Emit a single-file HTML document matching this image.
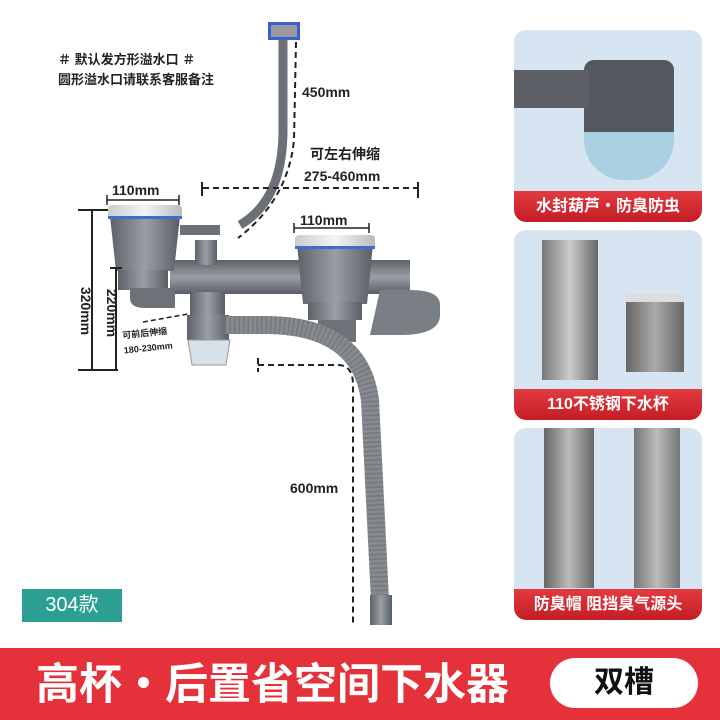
<!DOCTYPE html>
<html><head><meta charset="utf-8"><style>
body{margin:0;width:720px;height:720px;background:#fff;position:relative;overflow:hidden;font-family:"Liberation Sans","Noto Sans CJK SC",sans-serif}
.panel{position:absolute;left:514px;width:188px;background:#d7e4f1;border-radius:12px;overflow:hidden}
.lab{position:absolute;left:0;right:0;bottom:0;height:31px;background:linear-gradient(#e23a3f,#c41d25);color:#fff;font-size:16px;font-weight:bold;text-align:center;line-height:31px;border-radius:0 0 12px 12px}
.t{position:absolute;color:#222;font-weight:bold;white-space:nowrap}
</style></head><body>
<svg width="720" height="720" style="position:absolute;left:0;top:0">
<defs>
<linearGradient id="g" x1="0" x2="1"><stop offset="0" stop-color="#5d6168"/><stop offset=".5" stop-color="#9a9ea5"/><stop offset="1" stop-color="#5a5e65"/></linearGradient>
<linearGradient id="gv" x1="0" y1="0" x2="0" y2="1"><stop offset="0" stop-color="#5d6168"/><stop offset=".5" stop-color="#9a9ea5"/><stop offset="1" stop-color="#5a5e65"/></linearGradient>
<linearGradient id="s" x1="0" x2="1"><stop offset="0" stop-color="#ccc"/><stop offset=".5" stop-color="#f4f4f4"/><stop offset="1" stop-color="#bbb"/></linearGradient>
</defs>
<rect x="268" y="22" width="32" height="18" fill="#3a5fd0"/><rect x="271" y="25" width="26" height="12" fill="#999"/>
<path d="M283 40 L283 130 Q283 200 240 225" stroke="#6b6f76" stroke-width="9" fill="none"/>
<path d="M296 42 L294 140 Q288 200 238 238" stroke="#222" stroke-width="2" stroke-dasharray="6,4" fill="none"/>
<path d="M203 188 L417 188" stroke="#222" stroke-width="2" stroke-dasharray="6,4"/>
<path d="M202 182 v14 M418 182 v16" stroke="#222" stroke-width="2"/>
<rect x="170" y="260" width="240" height="34" fill="url(#gv)"/>
<path d="M380 290 h30 q30 0 30 15 v10 q0 20 -40 20 h-30" fill="#7a7e85"/>
<path d="M110 216 h70 l-6 55 h-58z" fill="url(#g)"/>
<rect x="108" y="205" width="74" height="14" rx="4" fill="url(#s)"/>
<rect x="108" y="216" width="74" height="3" fill="#3a6fd0"/>
<rect x="118" y="270" width="50" height="20" fill="url(#g)"/>
<path d="M130 290 v8 q0 10 15 10 h30 v-20 h-45z" fill="#6d7178"/>
<path d="M297 244 h76 l-6 60 h-64z" fill="url(#g)"/>
<rect x="295" y="235" width="80" height="14" rx="4" fill="url(#s)"/>
<rect x="295" y="246" width="80" height="3" fill="#3a6fd0"/>
<rect x="308" y="302" width="54" height="18" fill="url(#g)"/>
<path d="M318 320 v10 q0 12 18 12 h20 v-22z" fill="#6d7178"/>
<rect x="180" y="225" width="40" height="10" fill="#6d7178"/>
<rect x="195" y="240" width="22" height="25" fill="url(#g)"/>
<rect x="190" y="292" width="35" height="25" fill="url(#g)"/>
<rect x="187" y="315" width="42" height="25" fill="url(#g)"/>
<path d="M188 340 h42 l-4 25 h-34z" fill="#d8e0e8" stroke="#999"/>
<path d="M225 325 h40 Q360 325 370 400 L380 600" stroke="#868a91" stroke-width="18" fill="none"/>
<path d="M225 325 h40 Q360 325 370 400 L380 600" stroke="#666" stroke-width="18" stroke-dasharray="1.5,3" fill="none" opacity=".5"/>
<rect x="370" y="595" width="22" height="30" fill="url(#g)"/>
<path d="M258 358 v14 M258 365 h80 q15 0 15 20 v240" stroke="#222" stroke-width="2" stroke-dasharray="6,4" fill="none"/>
<path d="M92 210 v160 M78 210 h30 M78 370 h40" stroke="#222" stroke-width="2"/>
<path d="M116 268 v102 M110 268 h12" stroke="#222" stroke-width="2"/>
<path d="M107 200 h72 M107 195 v10 M179 195 v10 M294 228 h75 M294 223 v10 M369 223 v10" stroke="#222" stroke-width="1.5"/>
<path d="M143 322 l45 -8" stroke="#222" stroke-width="1.5" stroke-dasharray="5,3"/>
</svg>
<div class="t" style="left:58px;top:50px;font-size:13px;line-height:20px">＃ 默认发方形溢水口 ＃<br>圆形溢水口请联系客服备注</div>
<div class="t" style="left:302px;top:84px;font-size:14px">450mm</div>
<div class="t" style="left:310px;top:144px;font-size:14px">可左右伸缩</div>
<div class="t" style="left:304px;top:168px;font-size:14px">275-460mm</div>
<div class="t" style="left:112px;top:182px;font-size:14px">110mm</div>
<div class="t" style="left:300px;top:212px;font-size:14px">110mm</div>
<div class="t" style="left:62px;top:303px;font-size:14px;transform:rotate(90deg);transform-origin:center">320mm</div>
<div class="t" style="left:88px;top:305px;font-size:14px;transform:rotate(90deg)">220mm</div>
<div class="t" style="left:123px;top:326px;font-size:9px;transform:rotate(-6deg);line-height:15px">可前后伸缩<br>180-230mm</div>
<div class="t" style="left:290px;top:480px;font-size:14px">600mm</div>
<div style="position:absolute;left:22px;top:589px;width:100px;height:33px;background:#2a9f92;color:#fff;font-size:20px;line-height:33px;text-align:center">304款</div>
<div class="panel" style="top:30px;height:192px"><div style="position:absolute;left:70px;top:30px;width:90px;height:120px;background:linear-gradient(#55595f 60%,#a8d0e0 60%);border-radius:10px 10px 40px 40px"></div><div style="position:absolute;left:0;top:40px;width:75px;height:38px;background:#5c6066"></div><div class="lab">水封葫芦・防臭防虫</div></div>
<div class="panel" style="top:230px;height:190px"><div style="position:absolute;left:28px;top:10px;width:56px;height:140px;background:linear-gradient(90deg,#777,#ccc,#666)"></div><div style="position:absolute;left:112px;top:64px;width:58px;height:70px;background:linear-gradient(90deg,#666,#aaa,#666);border-top:8px solid #ddd"></div><div class="lab">110不锈钢下水杯</div></div>
<div class="panel" style="top:428px;height:192px"><div style="position:absolute;left:30px;top:0;width:50px;height:160px;background:linear-gradient(90deg,#666,#bbb,#666)"></div><div style="position:absolute;left:120px;top:0;width:46px;height:160px;background:linear-gradient(90deg,#777,#bbb,#777)"></div><div class="lab">防臭帽 阻挡臭气源头</div></div>
<div style="position:absolute;left:0;top:648px;width:720px;height:72px;background:#e5323a"></div>
<div style="position:absolute;left:36px;top:658px;color:#fff;font-size:43px;font-weight:bold;line-height:54px;white-space:nowrap">高杯・后置省空间下水器</div>
<div style="position:absolute;left:550px;top:658px;width:148px;height:50px;background:#fff;border-radius:25px;text-align:center;font-size:30px;font-weight:bold;line-height:50px;color:#111">双槽</div>
</body></html>
